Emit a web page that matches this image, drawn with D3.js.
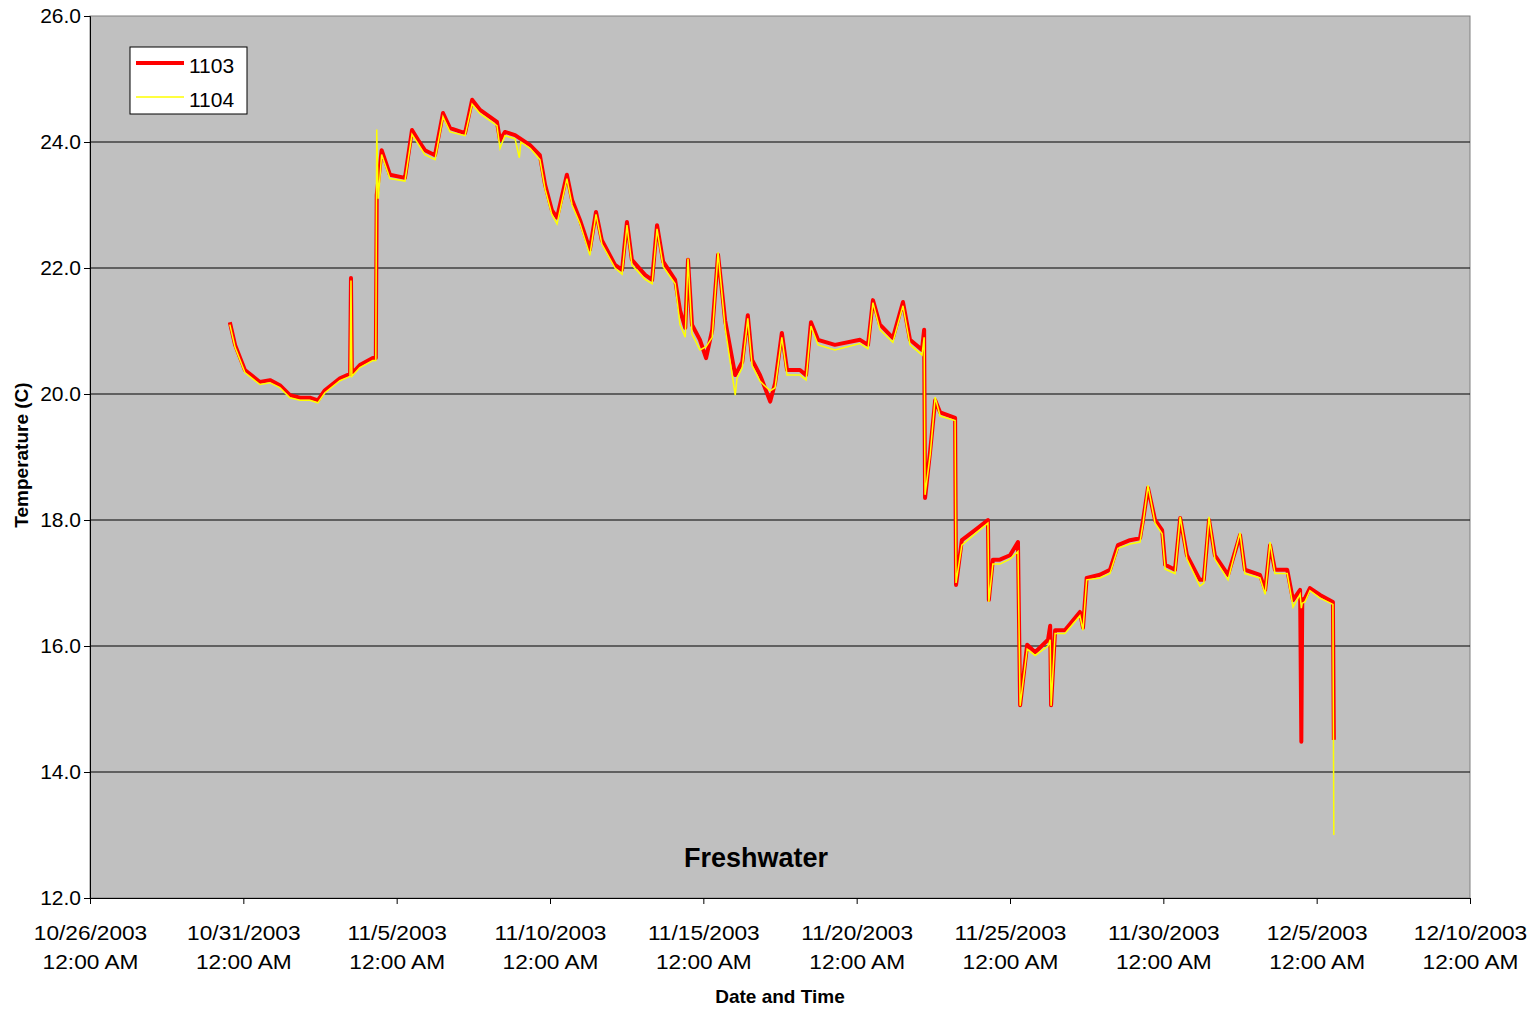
<!DOCTYPE html>
<html>
<head>
<meta charset="utf-8">
<script src="https://d3js.org/d3.v7.min.js"></script>
<style>
  body { margin: 0; background: #fff; font-family: "Liberation Sans", Arial, sans-serif; }
</style>
</head>
<body>
<div id="chart"></div>
<script>
// days after 10/26/2003 12:00 AM, temperature (C)
var s1103 = [[4.56,21.14],[4.73,20.78],[5.05,20.38],[5.54,20.19],[5.87,20.22],[6.19,20.14],[6.52,19.98],[6.85,19.94],[7.17,19.94],[7.43,19.9],[7.66,20.06],[8.15,20.25],[8.48,20.32],[8.51,21.84],[8.54,20.32],[8.8,20.46],[9.22,20.57],[9.32,20.57],[9.35,23.16],[9.51,23.87],[9.78,23.48],[10.27,23.43],[10.5,24.19],[10.7,24.03],[10.92,23.87],[11.25,23.79],[11.51,24.46],[11.74,24.22],[12.23,24.14],[12.46,24.67],[12.72,24.51],[13.27,24.32],[13.37,24.03],[13.53,24.16],[13.86,24.11],[14.35,23.95],[14.67,23.79],[14.84,23.32],[15.06,22.92],[15.23,22.8],[15.55,23.48],[15.72,23.08],[15.98,22.76],[16.3,22.29],[16.5,22.89],[16.69,22.44],[17.12,22.05],[17.35,21.97],[17.51,22.73],[17.67,22.13],[18.1,21.89],[18.33,21.81],[18.49,22.68],[18.69,22.1],[19.08,21.81],[19.24,21.33],[19.41,21.05],[19.5,22.13],[19.63,21.1],[19.89,20.86],[20.09,20.57],[20.29,21.02],[20.48,22.21],[20.71,21.17],[21.04,20.3],[21.27,20.51],[21.45,21.25],[21.59,20.54],[21.85,20.3],[22.18,19.88],[22.34,20.17],[22.56,20.97],[22.73,20.38],[23.15,20.38],[23.35,20.3],[23.51,21.14],[23.74,20.86],[24.29,20.78],[25.11,20.86],[25.37,20.78],[25.53,21.49],[25.76,21.1],[26.18,20.89],[26.51,21.46],[26.74,20.86],[27.13,20.7],[27.2,21.02],[27.23,18.35],[27.4,19.11],[27.56,19.9],[27.72,19.71],[28.21,19.62],[28.24,16.97],[28.43,17.68],[28.86,17.84],[29.28,18.0],[29.31,16.73],[29.44,17.37],[29.67,17.37],[30.0,17.44],[30.26,17.65],[30.33,15.06],[30.56,16.02],[30.82,15.9],[31.24,16.1],[31.31,16.32],[31.34,15.06],[31.47,16.25],[31.79,16.25],[32.28,16.54],[32.38,16.29],[32.5,17.08],[32.93,17.13],[33.26,17.21],[33.52,17.6],[33.91,17.68],[34.24,17.71],[34.34,18.0],[34.5,18.51],[34.73,18.0],[34.96,17.84],[35.06,17.29],[35.38,17.21],[35.55,18.03],[35.77,17.44],[36.19,17.05],[36.32,17.05],[36.49,18.0],[36.68,17.44],[37.11,17.13],[37.5,17.76],[37.66,17.21],[38.15,17.13],[38.32,16.89],[38.48,17.6],[38.64,17.21],[39.04,17.21],[39.23,16.73],[39.46,16.89],[39.5,14.48],[39.53,16.73],[39.62,16.76],[39.78,16.92],[40.11,16.81],[40.53,16.7],[40.56,14.51]];
var s1104 = [[4.56,21.1],[4.73,20.74],[5.05,20.34],[5.54,20.15],[5.87,20.18],[6.19,20.1],[6.52,19.94],[6.85,19.9],[7.17,19.9],[7.43,19.86],[7.66,20.02],[8.15,20.21],[8.48,20.28],[8.51,21.8],[8.54,20.28],[8.8,20.42],[9.22,20.53],[9.32,20.53],[9.35,24.2],[9.4,23.1],[9.51,23.8],[9.78,23.42],[10.27,23.38],[10.5,24.12],[10.7,23.97],[10.92,23.8],[11.25,23.72],[11.51,24.4],[11.74,24.16],[12.23,24.1],[12.46,24.6],[12.72,24.45],[13.27,24.26],[13.37,23.9],[13.53,24.1],[13.86,24.05],[14.0,23.75],[14.05,24.0],[14.35,23.9],[14.67,23.72],[14.84,23.25],[15.06,22.85],[15.23,22.7],[15.55,23.42],[15.72,23.0],[15.98,22.7],[16.3,22.2],[16.5,22.85],[16.69,22.38],[17.12,22.0],[17.35,21.9],[17.51,22.68],[17.67,22.05],[18.1,21.82],[18.33,21.75],[18.49,22.62],[18.69,22.02],[19.08,21.75],[19.24,21.1],[19.41,20.9],[19.5,22.15],[19.63,20.95],[19.89,20.7],[20.09,20.75],[20.29,20.9],[20.48,22.25],[20.71,21.05],[21.04,19.98],[21.1,20.25],[21.27,20.42],[21.45,21.2],[21.59,20.45],[21.85,20.2],[22.18,20.05],[22.34,20.1],[22.56,20.9],[22.73,20.3],[23.15,20.3],[23.35,20.22],[23.51,21.08],[23.74,20.78],[24.29,20.7],[25.11,20.8],[25.37,20.72],[25.53,21.45],[25.76,21.02],[26.18,20.82],[26.51,21.4],[26.74,20.78],[27.13,20.62],[27.2,20.9],[27.23,18.4],[27.4,19.05],[27.56,19.95],[27.72,19.65],[28.21,19.58],[28.24,17.0],[28.43,17.6],[28.86,17.78],[29.28,17.95],[29.31,16.7],[29.44,17.3],[29.67,17.3],[30.0,17.38],[30.26,17.5],[30.33,15.05],[30.56,15.95],[30.82,15.85],[31.24,16.0],[31.31,16.1],[31.34,15.05],[31.47,16.2],[31.79,16.2],[32.28,16.48],[32.38,16.25],[32.5,17.05],[32.93,17.08],[33.26,17.15],[33.52,17.55],[33.91,17.62],[34.24,17.65],[34.34,17.95],[34.5,18.55],[34.73,17.95],[34.96,17.78],[35.06,17.22],[35.38,17.15],[35.55,18.05],[35.77,17.38],[36.19,16.95],[36.32,17.0],[36.49,18.05],[36.68,17.38],[37.11,17.05],[37.5,17.8],[37.66,17.15],[38.15,17.08],[38.32,16.82],[38.48,17.65],[38.64,17.15],[39.04,17.15],[39.23,16.62],[39.46,16.82],[39.5,16.6],[39.53,16.68],[39.62,16.7],[39.78,16.88],[40.11,16.76],[40.53,16.66],[40.56,13.0]];
var yTicks = [12, 14, 16, 18, 20, 22, 24, 26];
var xTickDays = [0, 5, 10, 15, 20, 25, 30, 35, 40, 45];

var W = 1536, H = 1010;
var m = {left: 90, right: 66, top: 16, bottom: 112};
var start = new Date(2003, 9, 26);
function day(d) { return new Date(start.getTime() + d * 86400000); }

var svg = d3.select("#chart").append("svg").attr("width", W).attr("height", H);
var x = d3.scaleTime().domain([day(0), day(45)]).range([m.left, W - m.right]);
var y = d3.scaleLinear().domain([12, 26]).range([H - m.bottom, m.top]);

svg.append("rect").attr("x", m.left).attr("y", m.top)
  .attr("width", W - m.left - m.right).attr("height", H - m.top - m.bottom)
  .attr("fill", "#c0c0c0").attr("stroke", "#808080");

svg.selectAll("line.grid").data(yTicks.slice(1, -1)).enter().append("line")
  .attr("x1", m.left).attr("x2", W - m.right)
  .attr("y1", function(d) { return y(d); }).attr("y2", function(d) { return y(d); })
  .attr("stroke", "#000").attr("stroke-width", 1);

var fmt = d3.timeFormat("%-m/%-d/%Y");
var xa = svg.append("g").attr("transform", "translate(0," + (H - m.bottom) + ")")
  .call(d3.axisBottom(x).tickValues(xTickDays.map(day)).tickSize(6).tickFormat(""));
xa.selectAll(".tick").each(function(d) {
  var t = d3.select(this).append("text").attr("fill", "#000").attr("font-size", 21)
    .attr("text-anchor", "middle").attr("textLength", null);
  t.append("tspan").attr("x", 0).attr("y", 42).text(fmt(d));
  t.append("tspan").attr("x", 0).attr("y", 71).text("12:00 AM");
});
xa.selectAll(".tick text").attr("transform", "scale(1.08,1)");
var ya = svg.append("g").attr("transform", "translate(" + m.left + ",0)")
  .call(d3.axisLeft(y).tickValues(yTicks).tickSize(6).tickFormat(d3.format(".1f")));
ya.selectAll("text").attr("font-size", 21).attr("fill", "#000").attr("font-family", "Liberation Sans, Arial");
[xa, ya].forEach(function(a) { a.select(".domain").attr("stroke", "#000"); a.selectAll("line").attr("stroke", "#000"); });

var line = d3.line().x(function(d) { return x(day(d[0])); }).y(function(d) { return y(d[1]); });
svg.append("path").datum(s1103).attr("d", line).attr("fill", "none")
  .attr("stroke", "#ff0000").attr("stroke-width", 4).attr("stroke-linejoin", "round");
svg.append("path").datum(s1104).attr("d", line).attr("fill", "none")
  .attr("stroke", "#ffff00").attr("stroke-width", 1.5);

svg.append("text").attr("x", 756).attr("y", 867).attr("text-anchor", "middle")
  .attr("font-size", 27).attr("font-weight", "bold").text("Freshwater");
svg.append("text").attr("x", 780).attr("y", 1003).attr("text-anchor", "middle")
  .attr("font-size", 19).attr("font-weight", "bold").text("Date and Time");
svg.append("text").attr("transform", "translate(28,455) rotate(-90)").attr("text-anchor", "middle")
  .attr("font-size", 19).attr("font-weight", "bold").text("Temperature (C)");

var lg = svg.append("g");
lg.append("rect").attr("x", 130).attr("y", 47).attr("width", 117).attr("height", 67)
  .attr("fill", "#fff").attr("stroke", "#000");
[["1103", "#ff0000", 4, 63], ["1104", "#ffff00", 1.5, 97]].forEach(function(l) {
  lg.append("line").attr("x1", 136).attr("x2", 184).attr("y1", l[3]).attr("y2", l[3])
    .attr("stroke", l[1]).attr("stroke-width", l[2]);
  lg.append("text").attr("x", 189).attr("y", l[3] + 10).attr("font-size", 21).text(l[0]);
});
</script>
</body>
</html>
